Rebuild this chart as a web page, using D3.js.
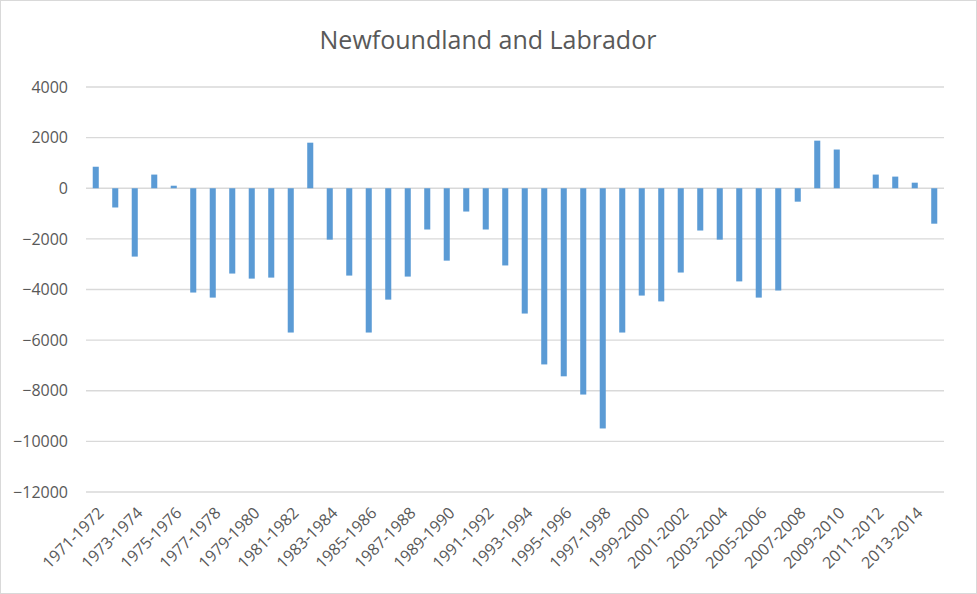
<!DOCTYPE html>
<html>
<head>
<meta charset="utf-8">
<script src="https://cdn.jsdelivr.net/npm/d3@7"></script>
<style>
  body { margin: 0; background: #fff; }
  text { font-family: "Open Sans", sans-serif; fill: #595959; }
</style>
</head>
<body>
<div id="chart-area"></div>
<script>
// fiscal years, 1971-1972 .. 2014-2015
const years = d3.range(1971, 2015).map(y => `${y}-${y + 1}`);

const values = [
  850, -760, -2700, 540, 100, -4120, -4320, -3370, -3570, -3530,
  -5700, 1800, -2030, -3450, -5700, -4400, -3490, -1630, -2860, -920,
  -1630, -3050, -4950, -6960, -7430, -8150, -9490, -5700, -4240, -4470,
  -3330, -1670, -2030, -3680, -4320, -4040, -530, 1880, 1530, 0,
  540, 460, 220, -1400
];

const yTicks = [4000, 2000, 0, -2000, -4000, -6000, -8000, -10000, -12000];

const W = 977, H = 594;
const margin = { top: 87, right: 33, bottom: 102, left: 86 };
const width = W - margin.left - margin.right;
const height = H - margin.top - margin.bottom;

const svg = d3.select("#chart-area")
  .append("svg")
    .attr("width", W)
    .attr("height", H);

svg.append("rect")
    .attr("x", 0.5).attr("y", 0.5)
    .attr("width", W - 1).attr("height", H - 1)
    .attr("fill", "#fff")
    .attr("stroke", "#d9d9d9");

svg.append("text")
    .attr("x", 488)
    .attr("y", 49)
    .attr("text-anchor", "middle")
    .style("font-size", "25px")
    .text("Newfoundland and Labrador");

const chart = svg.append("g")
    .attr("transform", `translate(${margin.left},${margin.top})`);

const x = d3.scaleBand()
  .domain(years)
  .range([0, width])
  .paddingInner(0.69)
  .paddingOuter(0.345);

const y = d3.scaleLinear()
  .domain([-12000, 4000])
  .range([height, 0]);

// gridlines
chart.append("g")
  .selectAll("line")
  .data(yTicks)
  .join("line")
    .attr("x1", 0)
    .attr("x2", width)
    .attr("y1", d => y(d))
    .attr("y2", d => y(d))
    .attr("stroke", "#d9d9d9")
    .attr("stroke-width", 1.3);

// y axis labels
const yAxis = chart.append("g")
    .call(d3.axisLeft(y)
      .tickValues(yTicks)
      .tickFormat(d3.format("d"))
      .tickSize(0)
      .tickPadding(18));
yAxis.select(".domain").remove();
yAxis.selectAll("text").style("font-size", "16px").attr("fill", "#595959");

// bars
chart.selectAll(".bar")
  .data(values)
  .join("rect")
    .attr("class", "bar")
    .attr("x", (d, i) => x(years[i]))
    .attr("width", x.bandwidth())
    .attr("y", d => y(Math.max(0, d)))
    .attr("height", d => Math.abs(y(d) - y(0)))
    .attr("fill", "#5b9bd5");

// x axis labels, every other year
const xAxis = chart.append("g")
    .attr("transform", `translate(0,${height})`)
    .call(d3.axisBottom(x)
      .tickValues(years.filter((d, i) => i % 2 === 0))
      .tickSize(0)
      .tickPadding(0));
xAxis.select(".domain").remove();
xAxis.selectAll("text")
    .style("font-size", "16px")
    .attr("fill", "#595959")
    .style("text-anchor", "end")
    .attr("dy", 0)
    .attr("transform", "translate(9,22) rotate(-45)");
</script>
</body>
</html>
